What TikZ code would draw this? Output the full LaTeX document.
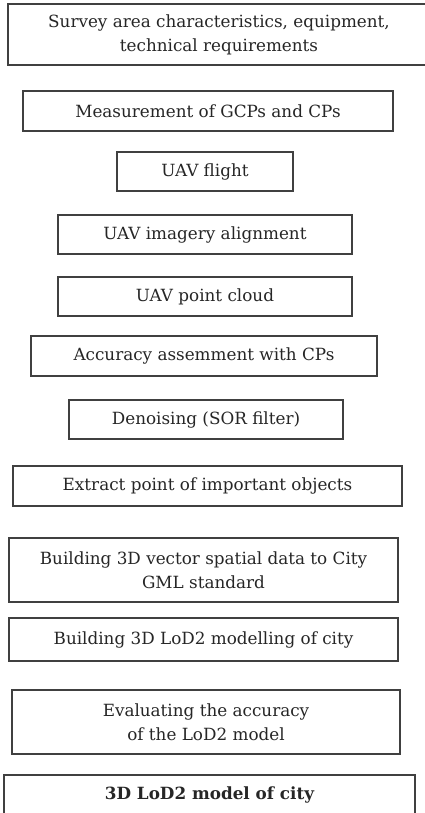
\documentclass[tikz,border=0pt]{standalone}
\usepackage{fontspec}
\setmainfont{DejaVu Serif}
\begin{document}
\begin{tikzpicture}[x=1pt,y=-1pt,
  stepbox/.style={draw=black!75, line width=1.3pt, inner sep=0pt, align=center,
    font=\fontsize{16.8}{24}\selectfont, text=black!85}]
\useasboundingbox (0,0) rectangle (425,813);
\fill[white] (0,0) rectangle (425,813);
\node[stepbox, minimum width=422pt, minimum height=61pt] (n1) at (219,34.5) {Survey area characteristics, equipment,\\technical requirements};
\node[stepbox, minimum width=370pt, minimum height=40pt] (n2) at (208,111) {Measurement of GCPs and CPs};
\node[stepbox, minimum width=176pt, minimum height=39pt] (n3) at (205,171.5) {UAV flight};
\node[stepbox, minimum width=294pt, minimum height=39pt] (n4) at (205,234.5) {UAV imagery alignment};
\node[stepbox, minimum width=294pt, minimum height=39pt] (n5) at (205,296.5) {UAV point cloud};
\node[stepbox, minimum width=346pt, minimum height=40pt] (n6) at (204,356) {Accuracy assemment with CPs};
\node[stepbox, minimum width=274pt, minimum height=39pt] (n7) at (206,419.5) {Denoising (SOR filter)};
\node[stepbox, minimum width=389pt, minimum height=40pt] (n8) at (207.5,486) {Extract point of important objects};
\node[stepbox, minimum width=389pt, minimum height=64pt] (n9) at (203.5,570) {Building 3D vector spatial data to City\\GML standard};
\node[stepbox, minimum width=389pt, minimum height=43pt] (n10) at (203.5,639.5) {Building 3D LoD2 modelling of city};
\node[stepbox, minimum width=388pt, minimum height=64pt] (n11) at (206,722) {Evaluating the accuracy\\of the LoD2 model};
\node[stepbox, minimum width=411pt, minimum height=40pt, font=\fontsize{16.8}{24}\selectfont\bfseries] (n12) at (209.5,795) {3D LoD2 model of city};
\end{tikzpicture}
\end{document}
